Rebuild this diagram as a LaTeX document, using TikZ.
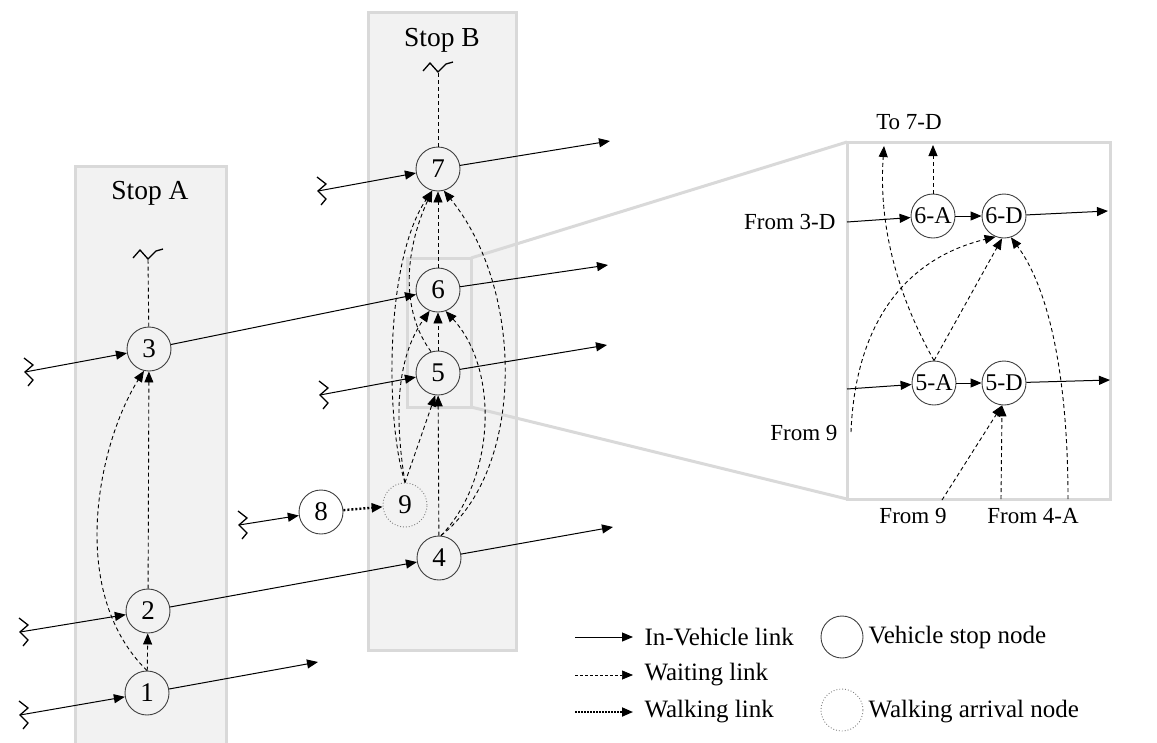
\documentclass[tikz,border=0pt]{standalone}
\usepackage{fontspec}
\setmainfont{Liberation Serif}
\usetikzlibrary{arrows.meta}
\definecolor{boxfill}{HTML}{F2F2F2}
\definecolor{boxline}{HTML}{D9D9D9}
\definecolor{nodeline}{HTML}{404040}
\begin{document}
\begin{tikzpicture}[x=1pt,y=-1pt,
  stopnode/.style={circle,draw=nodeline,line width=0.9pt,minimum size=44pt,inner sep=0pt,font=\fontsize{27}{27}\selectfont},
  walknode/.style={stopnode,draw=gray,dotted},
  subnode/.style={stopnode,font=\fontsize{24}{24}\selectfont},
  legnode/.style={circle,draw=nodeline,line width=0.9pt,minimum size=42pt,inner sep=0pt},
  legwalk/.style={legnode,draw=gray,dotted},
  tip/.style={-{Triangle[length=11pt,width=9pt]}},
  veh/.style={line width=1pt,tip},
  wait/.style={line width=0.9pt,dash pattern=on 4pt off 3pt,tip},
  waitplain/.style={line width=0.9pt,dash pattern=on 4pt off 3pt},
  walk/.style={line width=2.4pt,dash pattern=on 2pt off 2pt,tip},
  stopbox/.style={fill=boxfill,draw=boxline,line width=3pt},
  zoomline/.style={draw=boxline,line width=3pt},
  lbl/.style={font=\fontsize{27.5}{27.5}\selectfont},
  leg/.style={font=\fontsize{25}{25}\selectfont,anchor=west},
  sml/.style={font=\fontsize{23}{23}\selectfont},
  pics/zig/.style={code={\draw[line width=1.3pt] (-1,-14) -- (8,-7) -- (0,0) -- (8,8) -- (3,14);}},
  pics/wave/.style={code={\draw[line width=1.3pt] (-15,0) -- (-8,-8) -- (0,1) -- (8,-7) -- (15,-9);}}
]
\useasboundingbox (0,0) rectangle (1157,742);

% stop boxes
\path[stopbox] (75,166) rectangle (226,760);
\path[stopbox] (368,12) rectangle (516,650);
\node[lbl] (labA) at (150,193) {Stop A};
\node[lbl] (labB) at (442,40) {Stop B};

% zoom frame
\draw[zoomline] (407,258) rectangle (471,407);
\draw[zoomline] (471,258) -- (847,142);
\draw[zoomline] (471,407) -- (847,499);
\draw[zoomline] (847,142) rectangle (1110,499);

% nodes stop A
\node[stopnode] (n1) at (147,693) {1};
\node[stopnode] (n2) at (148,611) {2};
\node[stopnode] (n3) at (149,349) {3};
% nodes stop B
\node[stopnode] (n7) at (438,169) {7};
\node[stopnode] (n6) at (438,290) {6};
\node[stopnode] (n5) at (438,373) {5};
\node[walknode] (n9) at (405,505) {9};
\node[stopnode] (n8) at (321,512) {8};
\node[stopnode] (n4) at (439,558) {4};

% free ends
\coordinate (wA) at (148,258);
\coordinate (wB) at (438,71);
\pic at (wA) {wave};
\pic at (wB) {wave};
\coordinate (z3) at (25,372);
\coordinate (z2) at (20,632);
\coordinate (z1) at (20,715);
\coordinate (z7) at (318,191);
\coordinate (z5) at (320,395);
\coordinate (z8) at (239,525);
\foreach \z in {z3,z2,z1,z7,z5,z8} {\pic at (\z) {zig};}
\coordinate (o1) at (318,662);
\coordinate (o7) at (610,141);
\coordinate (o6) at (608,265);
\coordinate (o5) at (607,345);
\coordinate (o4) at (613,527);

% in-vehicle links
\draw[veh] (z3) -- (n3);
\draw[veh] (n3) -- (n6);
\draw[veh] (z2) -- (n2);
\draw[veh] (n2) -- (n4);
\draw[veh] (z1) -- (n1);
\draw[veh] (n1) -- (o1);
\draw[veh] (z7) -- (n7);
\draw[veh] (n7) -- (o7);
\draw[veh] (n6) -- (o6);
\draw[veh] (z5) -- (n5);
\draw[veh] (n5) -- (o5);
\draw[veh] (z8) -- (n8);
\draw[veh] (n4) -- (o4);
\draw[walk] (n8) -- (n9);

% waiting links stop A
\draw[waitplain] (n3) -- (wA);
\draw[wait] (n1) -- (n2);
\draw[wait] (n2) -- (n3);
\draw[wait] (n1.north) .. controls (65,590) and (100,440) .. (n3.-103);

% waiting links stop B
\draw[waitplain] (n7) -- (wB);
\draw[wait] (n6) -- (n7);
\draw[wait] (n5) -- (n6);
\draw[wait] (n4) -- (n5);
\draw[wait] (n9.north) -- (n5.-97);
\draw[wait] (n9.north) .. controls (395,420) and (395,360) .. (n6.-112);
\draw[wait] (n9.north) .. controls (385,420) and (385,260) .. (n7.-105);
\draw[wait] (n5.108) .. controls (400,310) and (405,250) .. (n7.-105);
\draw[wait] (n4.85) .. controls (495,480) and (500,370) .. (n6.-70);
\draw[wait] (n4.85) .. controls (525,470) and (525,290) .. (n7.-75);

% inset
\node[subnode] (A6) at (933,216) {6-A};
\node[subnode] (D6) at (1004,216) {6-D};
\node[subnode] (A5) at (934,383) {5-A};
\node[subnode] (D5) at (1004,383) {5-D};
\coordinate (i6) at (847,222);
\coordinate (i5) at (847,389);
\coordinate (e6) at (1108,211);
\coordinate (e5) at (1110,380);
\coordinate (t6) at (933,145);
\coordinate (t5) at (884,146);
\coordinate (f9a) at (851,432);
\coordinate (f9b) at (942,500);
\coordinate (f4a) at (1001,499);
\coordinate (f4b) at (1068,499);
\draw[veh] (i6) -- (A6);
\draw[veh] (A6) -- (D6);
\draw[veh] (D6) -- (e6);
\draw[veh] (i5) -- (A5);
\draw[veh] (A5) -- (D5);
\draw[veh] (D5) -- (e5);
\draw[wait] (A6) -- (t6);
\draw[wait] (A5.north) .. controls (900,300) and (878,230) .. (t5);
\draw[wait] (A5.north) -- (D6.-95);
\draw[wait] (f9a) .. controls (855,330) and (900,260) .. (D6.-112);
\draw[wait] (f4b) .. controls (1068,380) and (1050,290) .. (D6.-72);
\draw[wait] (f9b) -- (D5.-95);
\draw[wait] (f4a) -- (D5.-95);
\node[sml] (to7) at (909,122) {To 7-D};
\node[sml,anchor=east] (fr3) at (839,222) {From 3-D};
\node[sml,anchor=east] (fr9a) at (841,433) {From 9};
\node[sml] (fr9b) at (913,516) {From 9};
\node[sml] (fr4) at (1033,516) {From 4-A};

% legend
\coordinate (l1a) at (575,637); \coordinate (l1b) at (633,637);
\coordinate (l2a) at (575,675); \coordinate (l2b) at (633,675);
\coordinate (l3a) at (575,712); \coordinate (l3b) at (633,712);
\draw[veh] (l1a) -- (l1b);
\draw[wait,dash pattern=on 3pt off 2pt,line width=0.7pt] (l2a) -- (l2b);
\draw[walk,line width=1.8pt,dash pattern=on 1.5pt off 1.5pt] (l3a) -- (l3b);
\node[leg] (t1) at (641,637) {In-Vehicle link};
\node[leg] (t2) at (641,675) {Waiting link};
\node[leg] (t3) at (641,712) {Walking link};
\node[legnode] (c1) at (842,637) {};
\node[legwalk] (c2) at (842,710) {};
\node[leg] (t4) at (865,637) {Vehicle stop node};
\node[leg] (t5) at (865,712) {Walking arrival node};
\end{tikzpicture}
\end{document}
